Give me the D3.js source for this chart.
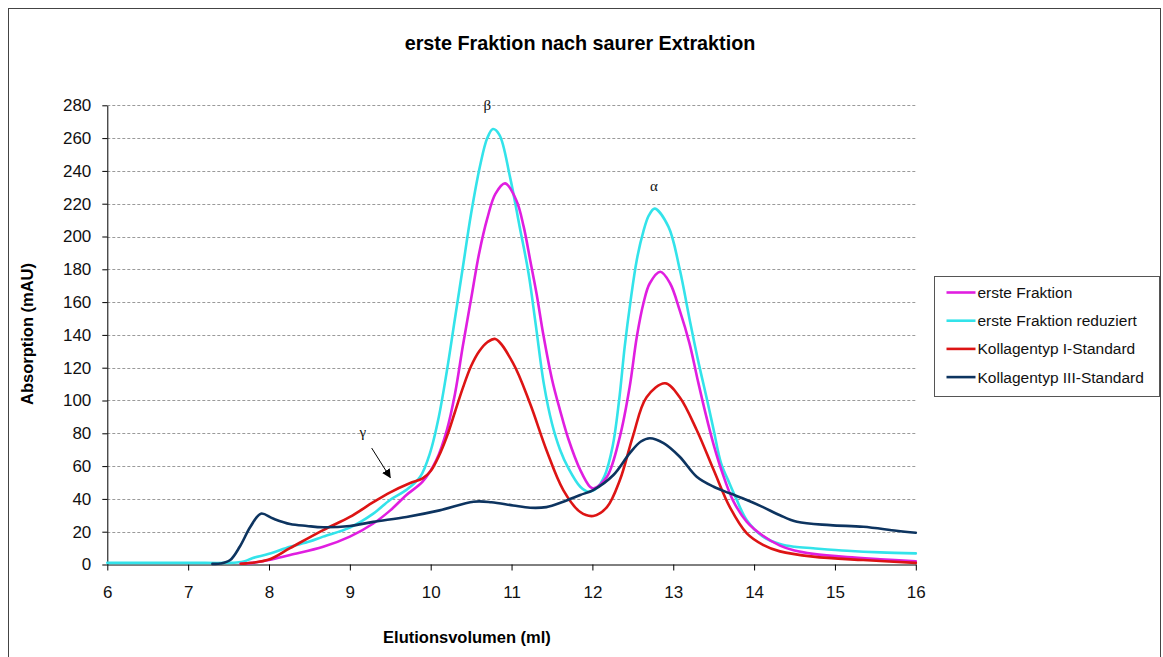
<!DOCTYPE html>
<html>
<head>
<meta charset="utf-8">
<script src="https://cdn.jsdelivr.net/npm/d3@7"></script>
<style>
  html, body { margin: 0; padding: 0; background: #fff; }
  svg { display: block; }
</style>
</head>
<body>
<svg id="chart" width="1163" height="657"></svg>
<script>
// Elution profiles (ml vs. mAU) of the first fraction after acid extraction
const xTicks = [6, 7, 8, 9, 10, 11, 12, 13, 14, 15, 16];
const yTicks = [0, 20, 40, 60, 80, 100, 120, 140, 160, 180, 200, 220, 240, 260, 280];

const seriesNames = ["erste Fraktion", "erste Fraktion reduziert", "Kollagentyp I-Standard", "Kollagentyp III-Standard"];
const seriesColors = ["#e01ee0", "#33e3ea", "#dd1414", "#0d3460"];

// erste Fraktion
const fraktionX = [7.65, 7.8, 8.0, 8.26, 8.67, 9.0, 9.29, 9.5, 9.7, 9.9, 10.07, 10.2, 10.3, 10.4, 10.5, 10.6, 10.7, 10.8, 10.92, 11.06, 11.15, 11.23, 11.31, 11.39, 11.5, 11.6, 11.7, 11.85, 11.97, 12.02, 12.18, 12.34, 12.46, 12.55, 12.63, 12.71, 12.84, 12.96, 13.08, 13.2, 13.3, 13.4, 13.5, 13.6, 13.74, 13.91, 14.11, 14.32, 14.5, 14.73, 15.15, 15.56, 16];
const fraktionY = [0.5, 1, 2.7, 5.8, 10.8, 17, 25, 33, 42.4, 50.5, 63.7, 82, 104, 134, 162, 190, 211, 226, 232.4, 222, 206, 185.7, 165, 141, 113, 94, 77, 57.6, 47.4, 46.4, 53.5, 78, 108, 139, 159, 171.5, 178.5, 171.5, 155, 135, 113, 92, 73, 57, 39, 26, 17.5, 11.5, 8.5, 6.5, 4.5, 3.2, 2];

// erste Fraktion reduziert
const reduziertX = [6, 7, 7.5, 7.6, 7.7, 7.8, 8.0, 8.26, 8.5, 8.67, 9.0, 9.29, 9.5, 9.7, 9.87, 9.99, 10.1, 10.2, 10.3, 10.4, 10.5, 10.61, 10.7, 10.77, 10.85, 10.98, 11.1, 11.21, 11.3, 11.4, 11.5, 11.6, 11.7, 11.85, 11.95, 12.05, 12.15, 12.25, 12.33, 12.4, 12.47, 12.55, 12.63, 12.7, 12.77, 12.94, 13.08, 13.2, 13.3, 13.42, 13.5, 13.59, 13.7, 13.78, 13.91, 14.11, 14.32, 14.5, 14.73, 15.15, 15.56, 16];
const reduziertY = [1, 1, 1, 1.2, 2, 4, 6.5, 10.8, 14, 17, 22.5, 31, 39.5, 45.5, 53.5, 67.8, 90, 118, 150, 182, 214, 243, 260, 265.5, 262, 236.5, 206, 177.6, 146, 110, 86, 70, 59, 47.4, 44.4, 46.5, 54, 72, 100, 133, 160, 186, 203, 213, 217, 206, 180, 150, 126, 100, 82, 62, 49, 40, 27, 17, 12.5, 10.8, 9.9, 8.4, 7.4, 6.8];

// Kollagentyp I-Standard
const typ1X = [7.65, 7.72, 8.0, 8.26, 8.67, 9.0, 9.29, 9.5, 9.74, 9.9, 10.0, 10.1, 10.2, 10.3, 10.4, 10.5, 10.6, 10.7, 10.8, 11.02, 11.23, 11.43, 11.64, 11.85, 12.01, 12.18, 12.34, 12.5, 12.67, 12.9, 13.08, 13.29, 13.5, 13.7, 13.91, 14.11, 14.32, 14.73, 15.35, 16];
const typ1Y = [0.5, 0.7, 3, 10, 21, 29, 38, 44, 49.5, 52.5, 57, 66, 78, 93, 108, 121, 130, 135.5, 137.5, 122.7, 98, 70, 45.4, 32, 29.6, 35, 51.5, 78, 102, 110.5, 102, 82, 57.6, 35, 19, 12, 8, 4.8, 2.7, 1];

// Kollagentyp III-Standard
const typ3X = [7.3, 7.4, 7.52, 7.64, 7.77, 7.9, 8.05, 8.26, 8.47, 8.67, 9.0, 9.29, 9.7, 10.11, 10.53, 10.75, 11.02, 11.23, 11.43, 11.64, 11.85, 12.01, 12.26, 12.46, 12.6, 12.71, 12.88, 13.08, 13.29, 13.5, 13.7, 13.91, 14.11, 14.32, 14.53, 14.94, 15.35, 15.76, 16];
const typ3Y = [0.4, 0.6, 2.7, 11, 23, 31, 28, 24.7, 23.5, 22.7, 23.5, 26, 29, 33, 38.3, 38, 36, 34.6, 35, 38.3, 42.4, 45.4, 54.6, 67.8, 75, 77, 74, 65.7, 53.5, 47.4, 43.4, 39.3, 35, 30, 26, 24, 23, 20.6, 19.4];

// Peak annotations
const peakLabels = [
  { text: "β", x: 10.7, y: 280.5 },
  { text: "α", x: 12.76, y: 230.8 },
  { text: "γ", x: 9.16, y: 81 }
];
const arrowFrom = [9.27, 71];
const arrowTo = [9.5, 53];

const svg = d3.select("#chart");

// outer chart frame
svg.append("rect")
  .attr("x", 8.5).attr("y", 8.5)
  .attr("width", 1152).attr("height", 660)
  .attr("fill", "#fff").attr("stroke", "#444").attr("stroke-width", 1);

const x = d3.scaleLinear().domain([6, 16]).range([107.3, 915.8]);
const y = d3.scaleLinear().domain([0, 280]).range([564.5, 105.3]);

// title
svg.append("text")
  .attr("x", 580).attr("y", 50)
  .attr("text-anchor", "middle")
  .attr("font-family", "Liberation Sans, Arial, sans-serif")
  .attr("font-weight", "bold")
  .attr("font-size", 19.8)
  .attr("fill", "#000")
  .text("erste Fraktion nach saurer Extraktion");

// horizontal gridlines
svg.append("g")
  .selectAll("line")
  .data(yTicks.filter(d => d > 0))
  .join("line")
  .attr("x1", x(6)).attr("x2", x(16))
  .attr("y1", d => Math.round(y(d)) + 0.5).attr("y2", d => Math.round(y(d)) + 0.5)
  .attr("stroke", "#9a9a9a")
  .attr("stroke-width", 1)
  .attr("stroke-dasharray", "3,2");

// axes
const yAxis = svg.append("g")
  .attr("transform", `translate(${x(6)},0)`)
  .call(d3.axisLeft(y).tickValues(yTicks).tickSize(5).tickPadding(11).tickSizeOuter(0));
const xAxis = svg.append("g")
  .attr("transform", `translate(0,${y(0)})`)
  .call(d3.axisBottom(x).tickValues(xTicks).tickFormat(d3.format("d")).tickSize(6).tickPadding(15).tickSizeOuter(0));

[yAxis, xAxis].forEach(g => {
  g.select(".domain").attr("stroke", "#000").attr("stroke-width", 1);
  g.selectAll(".tick line").attr("stroke", "#000");
  g.selectAll(".tick text")
    .attr("font-family", "Liberation Sans, Arial, sans-serif")
    .attr("font-size", 17)
    .attr("fill", "#111");
});

// axis titles
svg.append("text")
  .attr("transform", "translate(33,334) rotate(-90)")
  .attr("text-anchor", "middle")
  .attr("font-family", "Liberation Sans, Arial, sans-serif")
  .attr("font-weight", "bold")
  .attr("font-size", 16.5)
  .text("Absorption (mAU)");

svg.append("text")
  .attr("x", 467).attr("y", 643)
  .attr("text-anchor", "middle")
  .attr("font-family", "Liberation Sans, Arial, sans-serif")
  .attr("font-weight", "bold")
  .attr("font-size", 16.5)
  .text("Elutionsvolumen (ml)");

// series lines, drawn bottom to top
const series = [
  { xs: reduziertX, ys: reduziertY, color: seriesColors[1] },
  { xs: fraktionX, ys: fraktionY, color: seriesColors[0] },
  { xs: typ1X, ys: typ1Y, color: seriesColors[2] },
  { xs: typ3X, ys: typ3Y, color: seriesColors[3] }
];
const line = d3.line()
  .x(d => x(d[0]))
  .y(d => y(d[1]))
  .curve(d3.curveCatmullRom.alpha(0.5));

svg.append("g")
  .selectAll("path")
  .data(series)
  .join("path")
  .attr("d", s => line(s.xs.map((v, i) => [v, s.ys[i]])))
  .attr("fill", "none")
  .attr("stroke", s => s.color)
  .attr("stroke-width", 2.6)
  .attr("stroke-linejoin", "round")
  .attr("stroke-linecap", "round");

// peak labels
svg.append("g")
  .selectAll("text")
  .data(peakLabels)
  .join("text")
  .attr("x", d => x(d.x))
  .attr("y", d => y(d.y))
  .attr("dy", "0.35em")
  .attr("text-anchor", "middle")
  .attr("font-family", "Liberation Serif, Times New Roman, serif")
  .attr("font-size", 15)
  .attr("fill", "#111")
  .text(d => d.text);

// arrow pointing at the gamma shoulder
svg.append("defs").append("marker")
  .attr("id", "arrowhead")
  .attr("viewBox", "0 0 10 10")
  .attr("refX", 9).attr("refY", 5)
  .attr("markerWidth", 9).attr("markerHeight", 9)
  .attr("markerUnits", "userSpaceOnUse")
  .attr("orient", "auto")
  .append("path")
  .attr("d", "M0,0 L10,5 L0,10 Z")
  .attr("fill", "#000");

svg.append("line")
  .attr("x1", x(arrowFrom[0])).attr("y1", y(arrowFrom[1]))
  .attr("x2", x(arrowTo[0])).attr("y2", y(arrowTo[1]))
  .attr("stroke", "#000")
  .attr("stroke-width", 1)
  .attr("marker-end", "url(#arrowhead)");

// legend
const legend = svg.append("g").attr("transform", "translate(934.5,276.5)");
legend.append("rect")
  .attr("width", 225).attr("height", 120)
  .attr("fill", "#fff")
  .attr("stroke", "#555").attr("stroke-width", 1);

const legendOrder = [0, 1, 2, 3];
const rows = legend.selectAll("g.row")
  .data(legendOrder)
  .join("g")
  .attr("class", "row")
  .attr("transform", (d, i) => `translate(0,${16 + i * 28.2})`);
rows.append("line")
  .attr("x1", 12).attr("x2", 41)
  .attr("stroke", d => seriesColors[d])
  .attr("stroke-width", 2.6);
rows.append("text")
  .attr("x", 43)
  .attr("dy", "0.35em")
  .attr("font-family", "Liberation Sans, Arial, sans-serif")
  .attr("font-size", 15.5)
  .attr("fill", "#111")
  .text(d => seriesNames[d]);
</script>
</body>
</html>
